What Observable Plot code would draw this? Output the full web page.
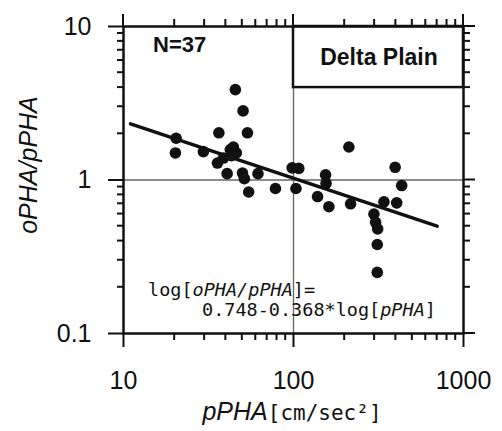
<!DOCTYPE html>
<html><head><meta charset="utf-8">
<script src="https://cdn.jsdelivr.net/npm/d3@7"></script>
<script src="https://cdn.jsdelivr.net/npm/@observablehq/plot@0.6"></script>
<style>body{margin:0;background:#fff;} svg{display:block;}</style>
</head><body><div id="chart"></div>
<script>
const pPHA  = [20.4, 20.2, 29.5, 36.4, 45.5, 50.5, 53.6, 35.7, 42.5, 46.1, 38.7, 40.7, 50.1, 51.4, 54.5, 61.8, 78.3, 98.2, 107.4, 103.4, 138.5, 154.4, 155.4, 161.5, 211.8, 216.7, 297.3, 304, 312.6, 311, 311, 340.4, 404.6, 396.3, 432.9, 43.1, 44.3];
const ratio = [1.87, 1.50, 1.53, 2.03, 3.88, 2.82, 2.03, 1.29, 1.58, 1.50, 1.39, 1.10, 1.11, 1.02, 0.835, 1.10, 0.88, 1.20, 1.19, 0.88, 0.78, 1.08, 0.95, 0.67, 1.64, 0.70, 0.60, 0.53, 0.48, 0.38, 0.25, 0.72, 0.71, 1.21, 0.92, 1.44, 1.64];

// Regression line end points
const fitX = [11, 700];
const fitY = [2.32, 0.50];

// Tick values
const xMajor = [10, 100, 1000];
const xMinor = [20, 30, 40, 50, 60, 70, 80, 90, 200, 300, 400, 500, 600, 700, 800, 900];
const yMajor = [0.1, 1, 10];
const yMinor = [0.2, 0.3, 0.4, 0.5, 0.6, 0.7, 0.8, 0.9, 2, 3, 4, 5, 6, 7, 8, 9];
const gridX = [100];
const gridY = [1];

// Label box ("Delta Plain")
const boxX = [100, 1000];
const boxY = [4, 10];

const points = pPHA.map((x, i) => ({x, y: ratio[i]}));
const fit = fitX.map((x, i) => ({x, y: fitY[i]}));
const box = [{x1: boxX[0], x2: boxX[1], y1: boxY[0], y2: boxY[1]}];

const ink = "#111";
const W = 502, H = 431, mL = 123, mR = 39, mT = 26, mB = 98;

const plot = Plot.plot({
  width: W, height: H,
  marginLeft: mL, marginRight: mR, marginTop: mT, marginBottom: mB,
  style: {fontFamily: "'Liberation Sans', Arial, sans-serif", fontSize: "25px", color: ink, background: "#fff"},
  x: {type: "log", domain: [10, 1000]},
  y: {type: "log", domain: [0.1, 10]},
  marks: [
    Plot.ruleX(gridX, {stroke: "#666", strokeWidth: 1.3}),
    Plot.ruleY(gridY, {stroke: "#666", strokeWidth: 1.3}),
    Plot.rect(box, {x1: "x1", x2: "x2", y1: "y1", y2: "y2", fill: "white", stroke: ink, strokeWidth: 2.5}),
    Plot.axisX(xMajor, {stroke: ink, strokeWidth: 2, label: null, anchor: "bottom", tickSize: 14, tickPadding: 24, tickFormat: d => String(d), fontSize: 25}),
    Plot.axisY(yMajor, {stroke: ink, strokeWidth: 2, label: null, anchor: "left", tickSize: 15, tickPadding: 17, tickFormat: d => String(d), fontSize: 25}),
    Plot.line(fit, {x: "x", y: "y", stroke: ink, strokeWidth: 3.5}),
    Plot.dot(points, {x: "x", y: "y", r: 5.8, fill: ink, stroke: "none"}),
    Plot.frame({stroke: ink, strokeWidth: 2.5})
  ]
});

document.getElementById("chart").appendChild(plot);

const svg = d3.select(plot);
const sx = plot.scale("x"), sy = plot.scale("y");
const [fx0, fx1] = sx.range, [fy0, fy1] = sy.range; // fy0 = bottom, fy1 = top

// Outward ticks placed through Plot's own scales: minor on bottom/left, all on top/right
const tg = svg.append("g").attr("stroke", "#111").attr("stroke-width", 2).attr("fill", "none");
function tickX(values, yEdge, len) {
  for (const v of values) {
    const px = sx.apply(v);
    tg.append("line").attr("x1", px).attr("x2", px).attr("y1", yEdge).attr("y2", yEdge + len);
  }
}
function tickY(values, xEdge, len) {
  for (const v of values) {
    const py = sy.apply(v);
    tg.append("line").attr("y1", py).attr("y2", py).attr("x1", xEdge).attr("x2", xEdge + len);
  }
}
tickX(xMinor, fy0, 7);
tickX(xMajor, fy1, -12);
tickX(xMinor, fy1, -7);
tickY(yMinor, fx0, -6);
tickY(yMajor, fx1, 12);
tickY(yMinor, fx1, 7);

// Annotation texts
const sans = "'Liberation Sans', Arial, sans-serif";
const mono = "'DejaVu Sans Mono', 'Liberation Mono', monospace";

function rich(x, y, parts, attrs = {}) {
  const t = svg.append("text").attr("x", x).attr("y", y).attr("fill", ink).attr("text-anchor", "start");
  for (const [k, v] of Object.entries(attrs)) t.attr(k, v);
  for (const p of parts) {
    const s = t.append("tspan").text(p.t);
    if (p.italic) s.attr("font-style", "italic");
    if (p.family) s.attr("font-family", p.family);
    if (p.size) s.attr("font-size", p.size);
    if (p.weight) s.attr("font-weight", p.weight);
  }
  return t;
}

rich(153, 52, [{t: "N=37"}], {"font-family": sans, "font-size": 22, "font-weight": "bold"});
rich(379, 65, [{t: "Delta Plain"}], {"font-family": sans, "font-size": 23, "font-weight": "bold", "text-anchor": "middle"});

rich(148, 296, [{t: "log["}, {t: "oPHA/pPHA", italic: true}, {t: "]="}], {"font-family": mono, "font-size": 18.5});
rich(202, 316, [{t: "0.748-0.368*log["}, {t: "pPHA", italic: true}, {t: "]"}], {"font-family": mono, "font-size": 18.5});

rich(292, 420, [{t: "pPHA", italic: true, family: sans, size: 25}, {t: "[cm/sec²]", family: mono, size: 21}], {"text-anchor": "middle"});
rich(0, 0, [{t: "oPHA/pPHA", italic: true}], {"font-family": sans, "font-size": 25, "text-anchor": "middle", transform: "translate(37,165) rotate(-90)"});
</script>
</body></html>
